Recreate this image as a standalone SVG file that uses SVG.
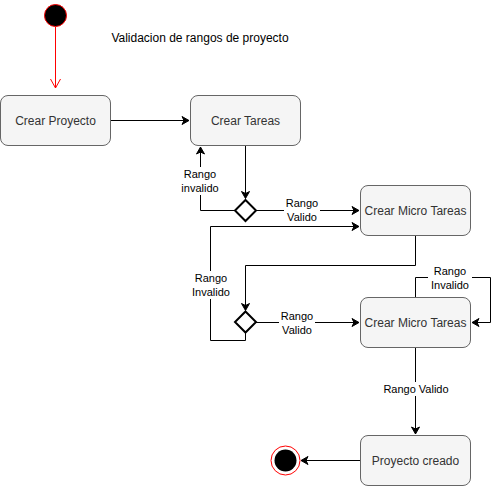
<svg xmlns="http://www.w3.org/2000/svg" width="499" height="486" viewBox="0 0 499 486">
<style>
.node rect{fill:#f5f5f5;stroke:#666666;stroke-width:1}
.node text{font-family:"Liberation Sans",Arial,sans-serif;font-size:12px;fill:#333333;text-anchor:middle;dominant-baseline:central}
.edge{fill:none;stroke:#000000;stroke-width:1}
.lbl{font-family:"Liberation Sans",Arial,sans-serif;font-size:11px;fill:#000000;text-anchor:middle;dominant-baseline:central}
.lblbg{fill:#ffffff}
.dia{fill:#ffffff;stroke:#000000;stroke-width:2}
</style>
<defs>
<marker id="ah" markerWidth="10" markerHeight="10" refX="8" refY="5" orient="auto" markerUnits="userSpaceOnUse">
<path d="M1,1 L8,5 L1,9 L3,5 Z" fill="#000" stroke="#000" stroke-width="1"/>
</marker>
<marker id="ahr" markerWidth="12" markerHeight="12" refX="10" refY="6" orient="auto" markerUnits="userSpaceOnUse">
<path d="M1,1 L10,6 L1,11" fill="none" stroke="#ff0000" stroke-width="1"/>
</marker>
</defs>
<g id="start"><circle cx="55.5" cy="15.5" r="11" fill="#000" stroke="#ff0000" stroke-width="1"/></g>
<text class="lbl" x="200" y="38" style="font-size:12px">Validacion de rangos de proyecto</text>
<g id="connectors">
<path class="edge" d="M55.5,27 L55.5,88" stroke="#ff0000" style="stroke:#ff0000" marker-end="url(#ahr)"/>
<path class="edge" d="M110.5,120.5 L189,120.5" marker-end="url(#ah)"/>
<path class="edge" d="M245.5,145.5 L245.5,198.5" marker-end="url(#ah)"/>
<path class="edge" d="M235,210.5 L200.5,210.5 L200.5,147" marker-end="url(#ah)"/>
<path class="edge" d="M256,210.5 L359,210.5" marker-end="url(#ah)"/>
<path class="edge" d="M245.5,332.5 L245.5,340.5 L210.5,340.5 L210.5,226.5 L359,226.5" marker-end="url(#ah)"/>
<path class="edge" d="M415.5,235.5 L415.5,265.5 L245.5,265.5 L245.5,310.5" marker-end="url(#ah)"/>
<path class="edge" d="M256,322.5 L359,322.5" marker-end="url(#ah)"/>
<path class="edge" d="M415.5,297.5 L415.5,277.5 L490.5,277.5 L490.5,322.5 L472,322.5" marker-end="url(#ah)"/>
<path class="edge" d="M415.5,347.5 L415.5,434" marker-end="url(#ah)"/>
<path class="edge" d="M360.5,460.5 L301,460.5" marker-end="url(#ah)"/>
<rect class="lblbg" x="178" y="167" width="44" height="28"/>
<text class="lbl" x="200" y="174">Rango</text>
<text class="lbl" x="200" y="188">invalido</text>
<rect class="lblbg" x="284" y="197" width="36" height="27"/>
<text class="lbl" x="302" y="203">Rango</text>
<text class="lbl" x="302" y="217">Valido</text>
<rect class="lblbg" x="188" y="271" width="45" height="28"/>
<text class="lbl" x="211" y="278">Rango</text>
<text class="lbl" x="211" y="292">Invalido</text>
<rect class="lblbg" x="279" y="309" width="36" height="27"/>
<text class="lbl" x="297" y="315.5">Rango</text>
<text class="lbl" x="297" y="329.5">Valido</text>
<rect class="lblbg" x="428" y="265" width="44" height="27"/>
<text class="lbl" x="450" y="271">Rango</text>
<text class="lbl" x="450" y="285">Invalido</text>
<rect class="lblbg" x="383" y="382" width="66" height="14"/>
<text class="lbl" x="416" y="389">Rango Valido</text>
</g>
<g id="crear-proyecto" class="node"><rect x="0.5" y="95.5" width="110" height="50" rx="7.5"/><text x="55.5" y="120.5">Crear Proyecto</text></g>
<g id="crear-tareas" class="node"><rect x="190.5" y="95.5" width="110" height="50" rx="7.5"/><text x="245.5" y="120.5">Crear Tareas</text></g>
<g id="decision1"><path class="dia" d="M245.5,200 L256,210.5 L245.5,221 L235,210.5 Z"/></g>
<g id="crear-micro-1" class="node"><rect x="360.5" y="185.5" width="110" height="50" rx="7.5"/><text x="415.5" y="210.5">Crear Micro Tareas</text></g>
<g id="decision2"><path class="dia" d="M245.5,311.5 L256,322 L245.5,332.5 L235,322 Z"/></g>
<g id="crear-micro-2" class="node"><rect x="360.5" y="297.5" width="110" height="50" rx="7.5"/><text x="415.5" y="322.5">Crear Micro Tareas</text></g>
<g id="proyecto-creado" class="node"><rect x="360.5" y="435.5" width="110" height="50" rx="7.5"/><text x="415.5" y="460.5">Proyecto creado</text></g>
<g id="end"><circle cx="285.5" cy="460.5" r="14.5" fill="#ffffff" stroke="#ff0000" stroke-width="1"/><circle cx="285.5" cy="460.5" r="11" fill="#000000"/></g>
</svg>
